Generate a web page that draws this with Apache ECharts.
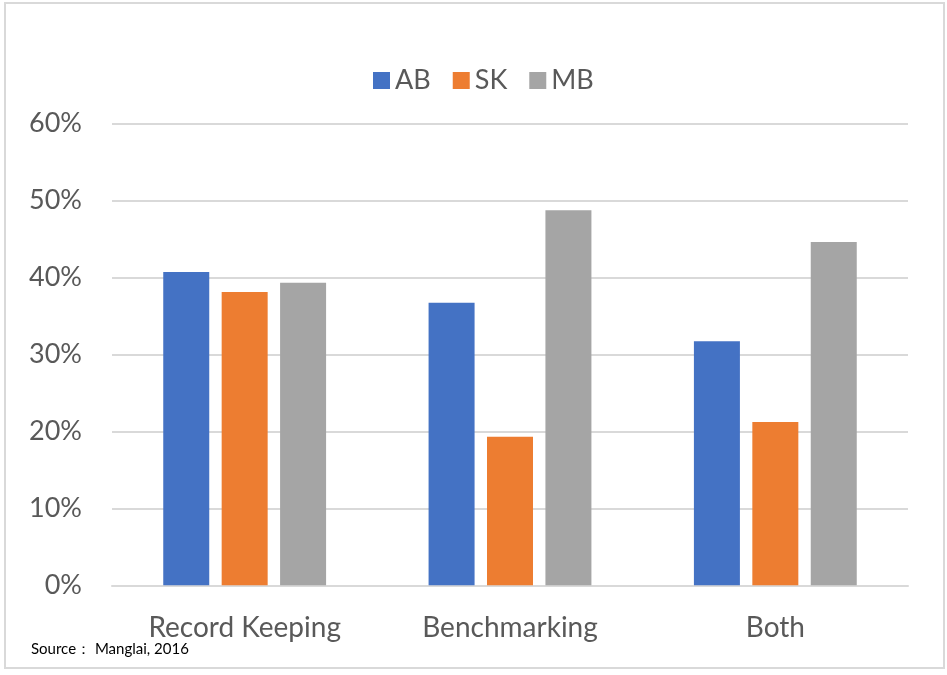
<!DOCTYPE html>
<html><head><meta charset="utf-8">
<script src="https://cdn.jsdelivr.net/npm/echarts@6/dist/echarts.min.js"></script>
<style>html,body{margin:0;padding:0;background:#fff}#c{width:947px;height:675px}</style>
</head><body><div id="c"></div>
<script>
const categories = ["Record Keeping", "Benchmarking", "Both"];
const seriesNames = ["AB", "SK", "MB"];
const AB = [40.7, 36.7, 31.7];
const SK = [38.1, 19.3, 21.2];
const MB = [39.3, 48.7, 44.6];
const yTicks = [0, 10, 20, 30, 40, 50, 60];
const sourceText = "Source： Manglai, 2016";

const colors = ["#4472C4", "#ED7D31", "#A5A5A5"];
const font = "Lato, 'Open Sans', sans-serif";
const chart = echarts.init(document.getElementById('c'), null, {renderer: 'canvas'});
const data = [AB, SK, MB];
chart.setOption({
  animation: false,
  color: colors,
  textStyle: {fontFamily: font},
  legend: {
    left: 368, top: 62, itemWidth: 17, itemHeight: 17, itemGap: 22,
    icon: 'rect',
    textStyle: {fontSize: 27, color: '#595959', fontFamily: font},
    data: seriesNames
  },
  grid: {left: 112, right: 39, top: 123.3, bottom: 89.7, containLabel: false},
  xAxis: {
    type: 'category', data: categories,
    axisLine: {lineStyle: {color: '#d9d9d9', width: 2}},
    axisTick: {show: false},
    axisLabel: {fontSize: 28, color: '#595959', margin: 29, fontFamily: font}
  },
  yAxis: {
    type: 'value', min: yTicks[0], max: yTicks[yTicks.length - 1], interval: 10,
    axisLine: {show: false}, axisTick: {show: false},
    splitLine: {lineStyle: {color: '#d9d9d9', width: 2}},
    axisLabel: {fontSize: 27, color: '#595959', margin: 30, formatter: v => v + '%', fontFamily: font}
  },
  series: seriesNames.map((n, i) => ({
    name: n, type: 'bar', data: data[i], barWidth: 46, barGap: '27%'
  })),
  graphic: [
    {type: 'rect', shape: {x: 5, y: 3, width: 939, height: 665},
     style: {fill: 'none', stroke: '#d9d9d9', lineWidth: 2}, silent: true},
    {type: 'text', left: 31, top: 642,
     style: {text: sourceText, fontSize: 15, fill: '#000', fontFamily: font}}
  ]
});
</script></body></html>
